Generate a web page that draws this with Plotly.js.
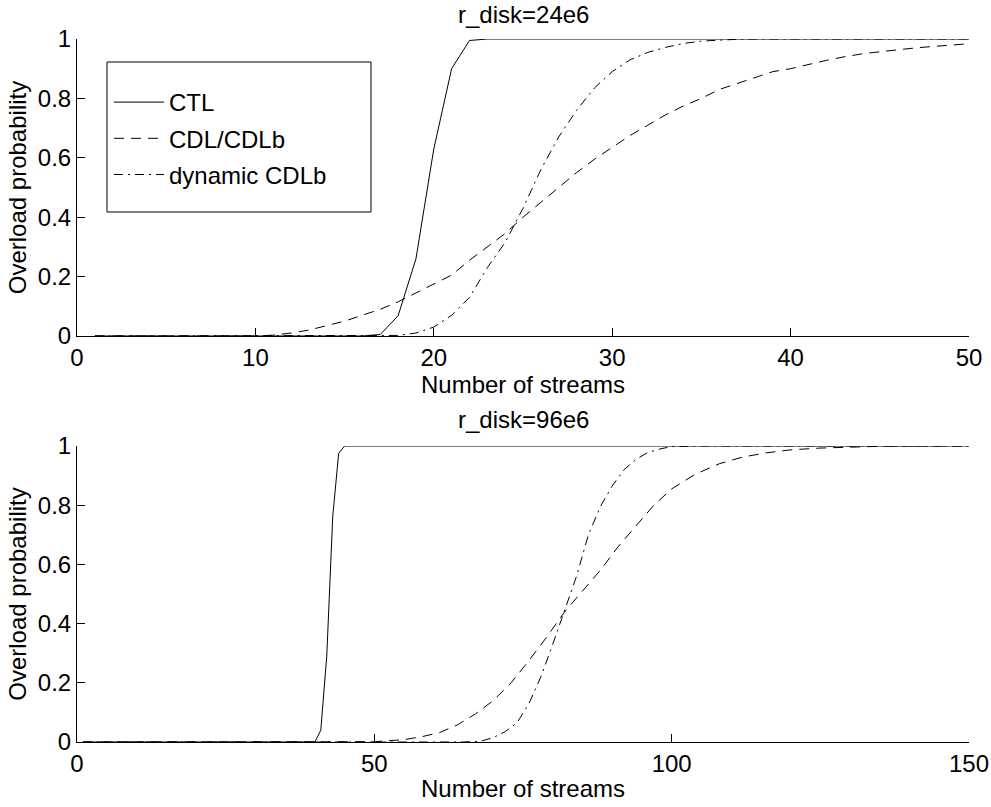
<!DOCTYPE html>
<html>
<head>
<meta charset="utf-8">
<script src="https://cdn.plot.ly/plotly-3.0.1.min.js"></script>
<style>html,body{margin:0;padding:0;background:#fff;}#chart{width:991px;height:807px;}</style>
</head>
<body>
<div id="chart"></div>
<script>
// ---- data: top panel (r_disk=24e6) ----
const xTop = [1,2,3,4,5,6,7,8,9,10,11,12,13,14,15,16,17,18,19,20,21,22,23,24,25,26,27,28,29,30,31,32,33,34,35,36,37,38,39,40,41,42,43,44,45,46,47,48,49,50];
const ctlTop = [0,0,0,0,0,0,0,0,0,0,0,0,0,0,0,0,0.005,0.068,0.26,0.63,0.90,0.995,1,1,1,1,1,1,1,1,1,1,1,1,1,1,1,1,1,1,1,1,1,1,1,1,1,1,1,1];
const cdlTop = [0,0,0,0,0,0,0,0,0,0,0.003,0.01,0.02,0.035,0.05,0.07,0.09,0.115,0.145,0.175,0.205,0.255,0.30,0.345,0.40,0.45,0.50,0.55,0.595,0.635,0.675,0.71,0.745,0.775,0.80,0.83,0.85,0.87,0.89,0.90,0.915,0.928,0.94,0.95,0.957,0.964,0.97,0.975,0.98,0.984];
const dynTop = [0,0,0,0,0,0,0,0,0,0,0,0,0,0,0,0,0,0.002,0.01,0.03,0.07,0.13,0.23,0.315,0.43,0.56,0.67,0.76,0.835,0.89,0.93,0.955,0.972,0.985,0.993,0.997,0.999,1,1,1,1,1,1,1,1,1,1,1,1,1];

// ---- data: bottom panel (r_disk=96e6) ----
const ctlBotX = [1,40,41,42,43,44,45,150];
const ctlBotY = [0,0,0.04,0.29,0.76,0.975,1,1];
const cdlBotX = [1,50,55,58,61,64,67,70,73,76,79,82,85,88,91,94,97,100,104,108,112,116,120,125,130,135,140,150];
const cdlBotY = [0,0.001,0.008,0.018,0.032,0.058,0.095,0.14,0.20,0.275,0.355,0.44,0.51,0.58,0.66,0.73,0.80,0.855,0.905,0.94,0.963,0.977,0.987,0.993,0.997,0.999,1,1];
const dynBotX = [1,65,68,70,72,74,76,78,80,82,84,86,88,90,92,94,96,98,100,105,150];
const dynBotY = [0,0,0.003,0.015,0.035,0.065,0.13,0.22,0.33,0.445,0.56,0.70,0.795,0.865,0.92,0.955,0.978,0.99,0.998,1,1];

const names = ["CTL","CDL/CDLb","dynamic CDLb"];
const titles = ["r_disk=24e6","r_disk=96e6"];
const xTitle = "Number of streams";
const yTitle = "Overload probability";

const FONT = "Liberation Sans, Arial, Helvetica, sans-serif";
const FS = 24;
const styles = [
  {color:"#000", width:1, dash:"solid"},
  {color:"#000", width:1, dash:"10px,7px"},
  {color:"#000", width:1, dash:"9px,5px,2px,5px"}
];

const traces = [
  {x:xTop, y:ctlTop, name:names[0], xaxis:"x", yaxis:"y", legendgroup:"a", line:styles[0]},
  {x:xTop, y:cdlTop, name:names[1], xaxis:"x", yaxis:"y", legendgroup:"b", line:styles[1]},
  {x:xTop, y:dynTop, name:names[2], xaxis:"x", yaxis:"y", legendgroup:"c", line:styles[2]},
  {x:ctlBotX, y:ctlBotY, name:names[0], xaxis:"x2", yaxis:"y2", showlegend:false, line:styles[0]},
  {x:cdlBotX, y:cdlBotY, name:names[1], xaxis:"x2", yaxis:"y2", showlegend:false, line:styles[1]},
  {x:dynBotX, y:dynBotY, name:names[2], xaxis:"x2", yaxis:"y2", showlegend:false, line:styles[2]}
].map(t => Object.assign({type:"scatter", mode:"lines", cliponaxis:false, hoverinfo:"skip"}, t));

const xd = [77/991, 969/991];
const tfont = {family:FONT, size:FS, color:"#000"};
const axBase = {
  showline:true, linecolor:"#000", linewidth:1, mirror:false,
  ticks:"inside", ticklen:8, tickcolor:"#000", tickwidth:1,
  showgrid:false, zeroline:false, automargin:false,
  tickfont:tfont
};
const layout = {
  width:991, height:807,
  margin:{l:0, r:0, t:0, b:0},
  paper_bgcolor:"#fff", plot_bgcolor:"#fff",
  font:tfont,
  showlegend:true,
  legend:{x:109/991, y:1-80/807, xanchor:"left", yanchor:"top",
          borderwidth:0, bgcolor:"rgba(0,0,0,0)", itemwidth:50,
          font:tfont, tracegroupgap:2},
  shapes:[
    {type:"rect", xref:"paper", yref:"paper", x0:107/991, x1:371/991, y0:1-212/807, y1:1-62/807,
     line:{color:"#000", width:1}, fillcolor:"#fff", layer:"above"}
  ],
  xaxis: Object.assign({}, axBase, {domain:xd, range:[0,50], tickvals:[0,10,20,30,40,50], anchor:"y",
          title:{text:xTitle, font:tfont, standoff:4}}),
  yaxis: Object.assign({}, axBase, {domain:[1-336/807, 1-39/807], range:[0,1], tickvals:[0,0.2,0.4,0.6,0.8,1], anchor:"x",
          title:{text:yTitle, font:tfont, standoff:4}}),
  xaxis2: Object.assign({}, axBase, {domain:xd, range:[0,150], tickvals:[0,50,100,150], anchor:"y2",
          title:{text:xTitle, font:tfont, standoff:4}}),
  yaxis2: Object.assign({}, axBase, {domain:[1-742/807, 1-446/807], range:[0,1], tickvals:[0,0.2,0.4,0.6,0.8,1], anchor:"x2",
          title:{text:yTitle, font:tfont, standoff:4}}),
  annotations:[
    {text:titles[0], xref:"paper", yref:"paper", x:(xd[0]+xd[1])/2, y:1-15/807, xanchor:"center", yanchor:"middle", showarrow:false, font:tfont},
    {text:titles[1], xref:"paper", yref:"paper", x:(xd[0]+xd[1])/2, y:1-419/807, xanchor:"center", yanchor:"middle", showarrow:false, font:tfont}
  ]
};
Plotly.newPlot("chart", traces, layout, {staticPlot:true, displayModeBar:false});
</script>
</body>
</html>
